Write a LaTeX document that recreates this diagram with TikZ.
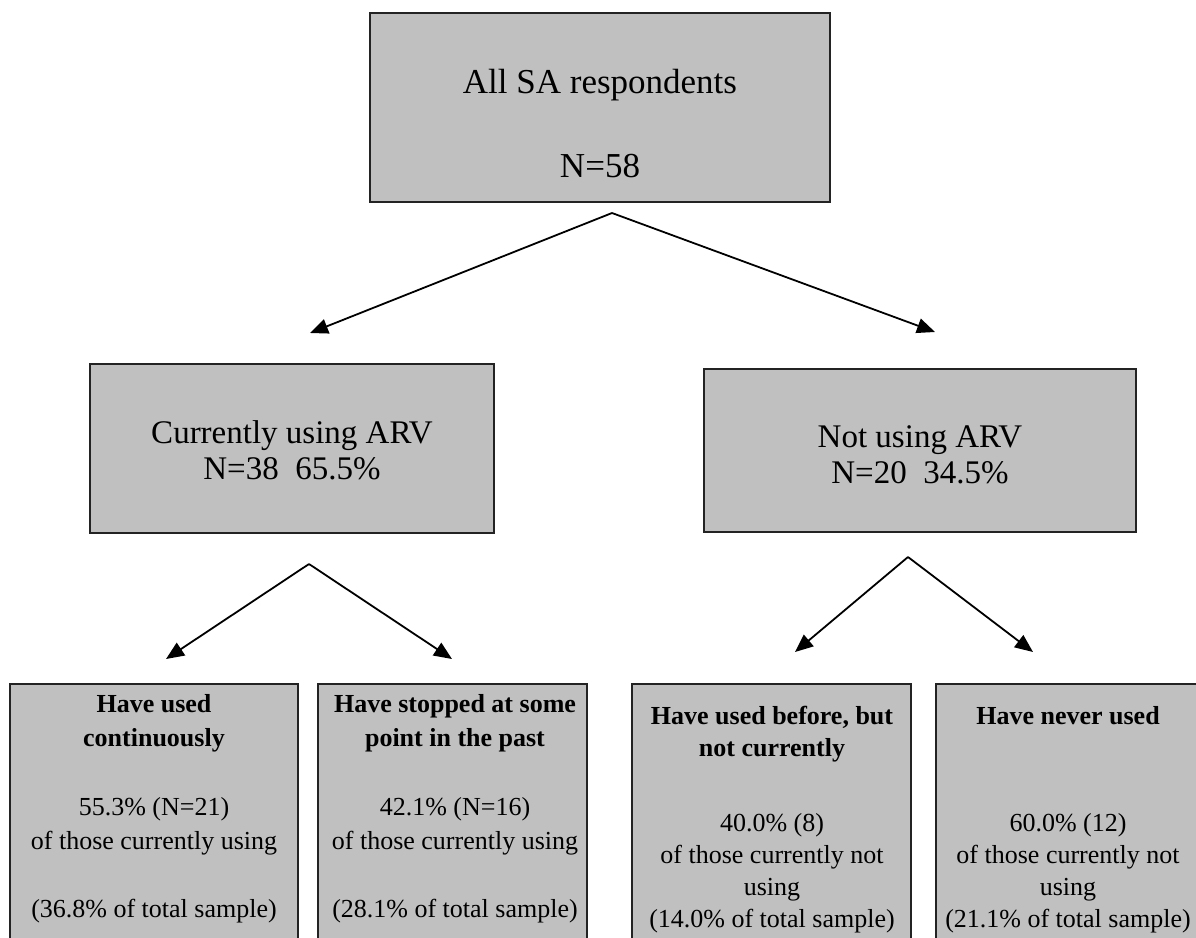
\documentclass[tikz,border=0pt]{standalone}
\usepackage{fontspec}
\setmainfont{Liberation Serif}
\usetikzlibrary{arrows.meta,positioning}
\definecolor{boxGrey}{RGB}{192,192,192}
\definecolor{boxInk}{RGB}{35,35,35}

\begin{document}
\begin{tikzpicture}[x=1pt,y=-1pt,
  box/.style={draw=boxInk,fill=boxGrey,line width=1.6pt,inner sep=0pt},
  txt/.style={anchor=north,inner sep=0pt,align=center},
  big/.style={font=\fontsize{35}{42}\selectfont},
  mid/.style={font=\fontsize{33}{36}\selectfont},
  note/.style={font=\fontsize{26}{#1}\selectfont},
  arr/.style={-{Triangle[length=18pt,width=15pt]},line width=1.8pt}]
\clip (0,0) rectangle (1196,937);
\fill[white] (0,0) rectangle (1196,937);

% whole sample
\node[box,minimum width=460pt,minimum height=189pt] (all) at (600,107.5) {};
\node[txt,big] (allT) at (600,63.6) {\strut All SA respondents\\[42pt]N=58};

% ARV use now
\node[box,minimum width=404pt,minimum height=169pt] (cur) at (292,448.5) {};
\node[txt,mid] (curT) at (292,417.8) {\strut Currently using ARV\\N=38\ \ 65.5\%};
\node[box,minimum width=432pt,minimum height=163pt] (notcur) at (920,450.5) {};
\node[txt,mid] (notcurT) at (920,421.8) {\strut Not using ARV\\N=20\ \ 34.5\%};

% history of use
\node[box,minimum width=288pt,minimum height=286pt] (cont) at (154,827) {};
\node[txt,note=34] (contT) at (154,688.2)
  {\textbf{\strut Have used}\\\textbf{continuously}\\[35pt]55.3\% (N=21)\\
   of those currently using\\[34pt](36.8\% of total sample)};
\node[box,minimum width=269pt,minimum height=286pt] (stop) at (452.5,827) {};
\node[txt,note=34] (stopT) at (455,688.2)
  {\textbf{\strut Have stopped at some}\\\textbf{point in the past}\\[35pt]42.1\% (N=16)\\
   of those currently using\\[34pt](28.1\% of total sample)};
\node[box,minimum width=279pt,minimum height=286pt] (before) at (771.5,827) {};
\node[txt,note=32] (beforeT) at (772,701.6)
  {\textbf{\strut Have used before, but}\\\textbf{not currently}\\[43pt]40.0\% (8)\\
   of those currently not\\using\\(14.0\% of total sample)};
\node[box,minimum width=264pt,minimum height=286pt] (never) at (1068,827) {};
\node[txt,note=32] (neverT) at (1068,701.6)
  {\textbf{\strut Have never used}\\[75pt]60.0\% (12)\\
   of those currently not\\using\\(21.1\% of total sample)};

% arrows
\coordinate (allFork) at (612,213);
\coordinate (curTip) at (310,333);
\coordinate (notTip) at (935,332);
\coordinate (curFork) at (309,564);
\coordinate (contTip) at (166,659);
\coordinate (stopTip) at (452,659);
\coordinate (notFork) at (908,557);
\coordinate (beforeTip) at (795,652);
\coordinate (neverTip) at (1033,652);
\draw[arr] (allFork) -- (curTip);
\draw[arr] (allFork) -- (notTip);
\draw[arr] (curFork) -- (contTip);
\draw[arr] (curFork) -- (stopTip);
\draw[arr] (notFork) -- (beforeTip);
\draw[arr] (notFork) -- (neverTip);
\end{tikzpicture}
\end{document}
